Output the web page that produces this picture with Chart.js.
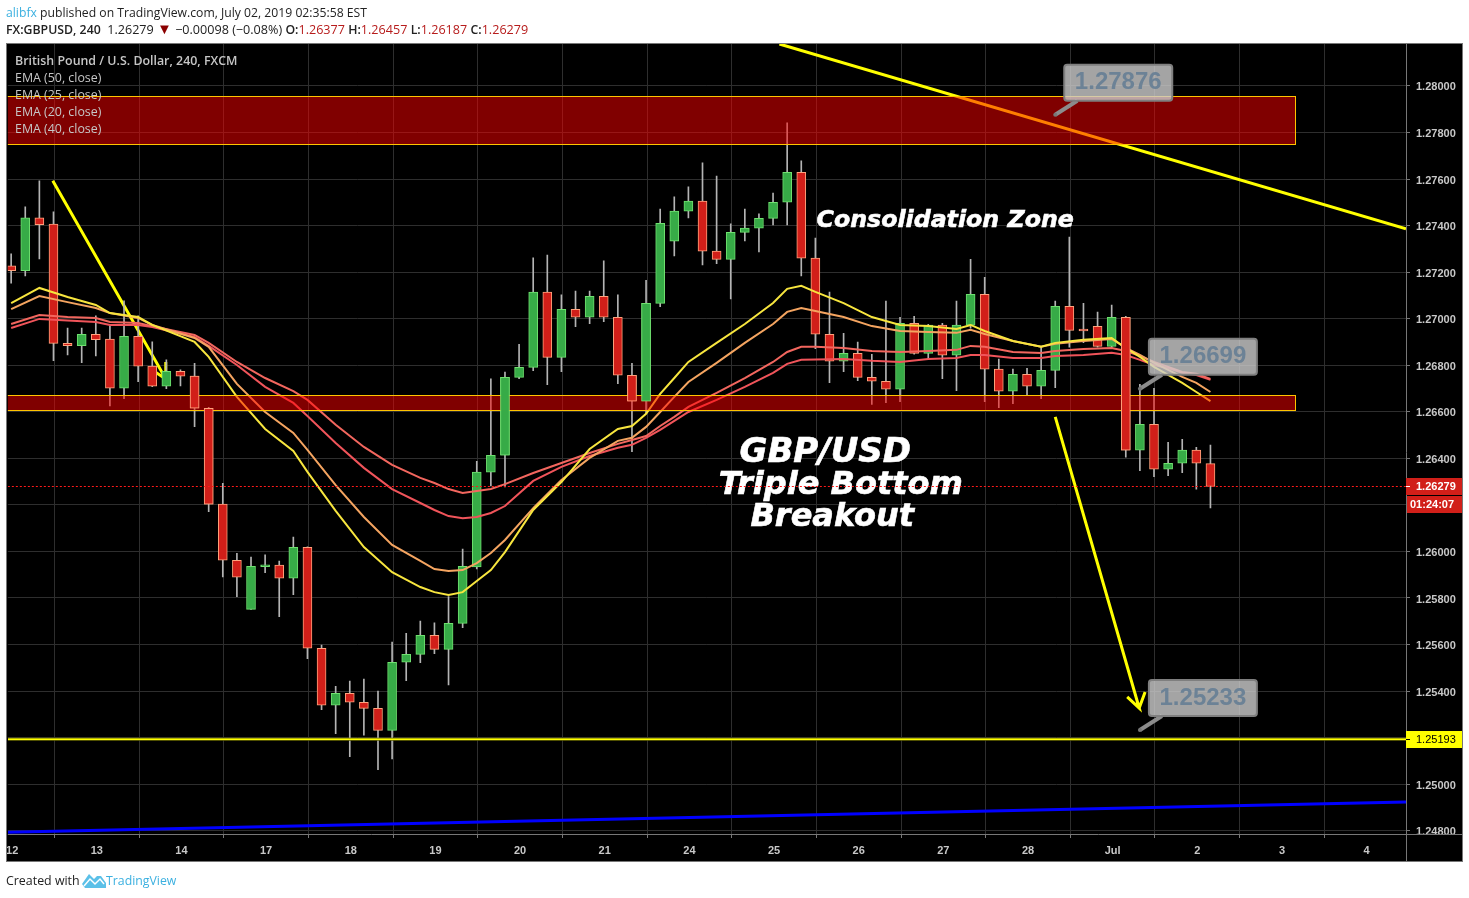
<!DOCTYPE html>
<html>
<head>
<meta charset="utf-8">
<title>GBPUSD 240</title>
<script src="https://cdn.jsdelivr.net/npm/chart.js@4/dist/chart.umd.min.js"></script>
<style>
  body { margin: 0; background: #fff; width: 1469px; height: 898px; overflow: hidden; position: relative; font-family: "Open Sans", sans-serif; }
  canvas { position: absolute; left: 0; top: 0; }
  .txt { position: absolute; white-space: nowrap; }
  #top1 { left: 6px; top: 4px; font-size: 12.2px; line-height: 18px; color: #222; }
  #top2 { left: 6px; top: 21px; font-size: 12.6px; line-height: 18px; color: #222; }
  #top1 span { color: #3bb0e0; }
  #top2 b { font-weight: 600; font-size: 12.3px; }
  #top2 i { font-style: normal; color: #b71c1c; }
  #top2 u { text-decoration: none; color: #8b0000; font-size: 15px; line-height: 12px; }
  .leg { left: 15px; font-size: 12.4px; line-height: 17px; color: #c6c6c6; }
  #foot { left: 6px; top: 872px; font-size: 12.4px; line-height: 18px; color: #222; }
  #tvname { left: 106px; top: 872px; font-size: 12.3px; line-height: 18px; color: #3bb0e0; }
  #logo { position: absolute; left: 82px; top: 873px; }
</style>
</head>
<body>
<canvas id="myChart" width="1469" height="898"></canvas>
<div class="txt" id="top1"><span>alibfx</span> published on TradingView.com, July 02, 2019 02:35:58 EST</div>
<div class="txt" id="top2"><b>FX:GBPUSD, 240</b>&nbsp; 1.26279 <u>▼</u> −0.00098 (−0.08%) <b>O:</b><i>1.26377</i> <b>H:</b><i>1.26457</i> <b>L:</b><i>1.26187</i> <b>C:</b><i>1.26279</i></div>
<div class="txt leg" style="top:52px;font-weight:600">British Pound / U.S. Dollar, 240, FXCM</div>
<div class="txt leg" style="top:69px">EMA (50, close)</div>
<div class="txt leg" style="top:86px">EMA (25, close)</div>
<div class="txt leg" style="top:103px">EMA (20, close)</div>
<div class="txt leg" style="top:120px">EMA (40, close)</div>
<div class="txt" id="foot">Created with</div>
<svg id="logo" width="24" height="15" viewBox="0 0 24 15"><path d="M0 11 L7 1 L12 6 L15 3 L19 3 L24 10 L24 15 L3 15 Z" fill="#5bc0e8"/><path d="M2 13 L8 6 L13 11 L18 6 L22 11" fill="none" stroke="#fff" stroke-width="1.5"/></svg>
<div class="txt" id="tvname">TradingView</div>
<script>
const opens = [1.27227,1.27206,1.27433,1.27406,1.26894,1.26884,1.26933,1.26912,1.26701,1.26924,1.26796,1.26710,1.26774,1.26753,1.26615,1.26203,1.25962,1.25751,1.25934,1.25941,1.25885,1.26018,1.25584,1.25339,1.25390,1.25352,1.25326,1.25231,1.25524,1.25558,1.25640,1.25579,1.25691,1.25933,1.26341,1.26413,1.26748,1.26791,1.27114,1.26834,1.27040,1.27006,1.27096,1.27006,1.26757,1.26645,1.27066,1.27333,1.27462,1.27505,1.27290,1.27255,1.27371,1.27389,1.27431,1.27500,1.27629,1.27260,1.26933,1.26817,1.26851,1.26748,1.26731,1.26697,1.26980,1.26851,1.26972,1.26843,1.26972,1.27105,1.26783,1.26688,1.26761,1.26710,1.26778,1.27053,1.26950,1.26967,1.26881,1.27006,1.26435,1.26546,1.26353,1.26379,1.26435,1.26377];
const highs = [1.27278,1.27480,1.27592,1.27459,1.26959,1.26959,1.27012,1.26969,1.27077,1.27012,1.26900,1.26823,1.26780,1.26808,1.26619,1.26293,1.25992,1.25976,1.25985,1.25959,1.26062,1.26020,1.25598,1.25420,1.25443,1.25452,1.25400,1.25610,1.25648,1.25701,1.25693,1.25806,1.26010,1.26387,1.26741,1.26771,1.26890,1.27261,1.27273,1.27102,1.27119,1.27119,1.27248,1.27102,1.26808,1.27165,1.27471,1.27523,1.27566,1.27669,1.27613,1.27407,1.27471,1.27450,1.27540,1.27841,1.27678,1.27346,1.27114,1.26937,1.26899,1.26847,1.27075,1.27006,1.27010,1.26976,1.26980,1.27075,1.27255,1.27178,1.26826,1.26783,1.26787,1.26877,1.27075,1.27350,1.27066,1.27028,1.27058,1.27010,1.26718,1.26701,1.26469,1.26482,1.26447,1.26457];
const lows = [1.27153,1.27184,1.27257,1.26820,1.26844,1.26811,1.26840,1.26625,1.26656,1.26729,1.26708,1.26699,1.26711,1.26536,1.26171,1.25891,1.25806,1.25751,1.25909,1.25720,1.25814,1.25539,1.25320,1.25217,1.25118,1.25211,1.25062,1.25109,1.25445,1.25522,1.25561,1.25427,1.25672,1.25925,1.26281,1.26277,1.26742,1.26777,1.26716,1.26772,1.26966,1.26979,1.26987,1.26721,1.26429,1.26594,1.27052,1.27270,1.27433,1.27231,1.27236,1.27085,1.27334,1.27287,1.27403,1.27403,1.27184,1.26871,1.26725,1.26772,1.26734,1.26632,1.26639,1.26643,1.26847,1.26826,1.26742,1.26691,1.26959,1.26643,1.26618,1.26635,1.26672,1.26656,1.26704,1.26877,1.26897,1.26877,1.26873,1.26405,1.26347,1.26321,1.26325,1.26338,1.26267,1.26187];
const closes = [1.27206,1.27433,1.27404,1.26894,1.26884,1.26933,1.26910,1.26701,1.26924,1.26796,1.26710,1.26774,1.26753,1.26615,1.26203,1.25962,1.25889,1.25936,1.25942,1.25885,1.26018,1.25584,1.25339,1.25390,1.25352,1.25326,1.25231,1.25524,1.25558,1.25640,1.25579,1.25691,1.25936,1.26341,1.26413,1.26748,1.26791,1.27114,1.26834,1.27040,1.27006,1.27096,1.27006,1.26757,1.26645,1.27066,1.27410,1.27462,1.27505,1.27290,1.27255,1.27371,1.27389,1.27431,1.27500,1.27629,1.27260,1.26933,1.26817,1.26851,1.26748,1.26731,1.26697,1.26980,1.26851,1.26972,1.26843,1.26972,1.27105,1.26783,1.26688,1.26761,1.26710,1.26778,1.27053,1.26950,1.26947,1.26881,1.27006,1.26435,1.26546,1.26353,1.26379,1.26435,1.26379,1.26279];

const emaIndex = [0,2,4,6,7,9,10,13,14,16,18,20,21,23,25,27,29,30,31,32,33,34,35,37,39,41,43,44,45,46,47,48,50,52,54,55,56,57,59,61,63,65,67,68,69,71,73,74,76,78,79,80,81,82,83,84,85];
const ema20 = [1.27067,1.27132,1.27093,1.27059,1.27024,1.27007,1.26973,1.26900,1.26836,1.26664,1.26526,1.26432,1.26342,1.26174,1.26019,1.25911,1.25847,1.25825,1.25813,1.25825,1.25873,1.25920,1.25997,1.26178,1.26298,1.26440,1.26526,1.26539,1.26591,1.26677,1.26745,1.26814,1.26896,1.26977,1.27067,1.27128,1.27141,1.27115,1.27067,1.27007,1.26973,1.26968,1.26956,1.26973,1.26947,1.26904,1.26879,1.26896,1.26909,1.26917,1.26874,1.26836,1.26793,1.26758,1.26724,1.26685,1.26646];
const ema25 = [1.27041,1.27097,1.27071,1.27046,1.27024,1.27003,1.26973,1.26917,1.26879,1.26720,1.26599,1.26509,1.26436,1.26285,1.26148,1.26028,1.25959,1.25924,1.25916,1.25920,1.25950,1.25993,1.26049,1.26186,1.26307,1.26402,1.26475,1.26488,1.26535,1.26599,1.26664,1.26728,1.26810,1.26896,1.26977,1.27029,1.27046,1.27033,1.27007,1.26968,1.26947,1.26943,1.26939,1.26952,1.26934,1.26904,1.26879,1.26892,1.26904,1.26913,1.26874,1.26844,1.26810,1.26780,1.26750,1.26724,1.26685];
const ema40 = [1.26977,1.27016,1.27007,1.27003,1.26986,1.26981,1.26968,1.26930,1.26896,1.26814,1.26745,1.26689,1.26651,1.26544,1.26449,1.26372,1.26316,1.26294,1.26268,1.26251,1.26260,1.26268,1.26289,1.26337,1.26380,1.26423,1.26462,1.26479,1.26496,1.26539,1.26578,1.26621,1.26681,1.26745,1.26814,1.26857,1.26879,1.26879,1.26874,1.26861,1.26857,1.26861,1.26866,1.26883,1.26879,1.26857,1.26853,1.26861,1.26870,1.26874,1.26861,1.26840,1.26814,1.26793,1.26771,1.26763,1.26741];
const ema50 = [1.26960,1.26999,1.26992,1.26986,1.26973,1.26973,1.26964,1.26921,1.26883,1.26801,1.26707,1.26638,1.26582,1.26466,1.26359,1.26268,1.26208,1.26178,1.26152,1.26143,1.26148,1.26165,1.26195,1.26303,1.26363,1.26410,1.26445,1.26458,1.26488,1.26522,1.26561,1.26599,1.26651,1.26707,1.26767,1.26806,1.26823,1.26825,1.26827,1.26819,1.26814,1.26827,1.26831,1.26844,1.26844,1.26831,1.26831,1.26840,1.26844,1.26853,1.26844,1.26823,1.26801,1.26788,1.26767,1.26758,1.26737];

const priceTicks = [1.248,1.25,1.252,1.254,1.256,1.258,1.26,1.262,1.264,1.266,1.268,1.27,1.272,1.274,1.276,1.278,1.28];
const dayLabels = ['12','13','14','17','18','19','20','21','24','25','26','27','28','Jul','2','3','4'];
const candlesPerDay = 6;

const lastPrice = 1.26279;
const countdown = '01:24:07';
const supportPrice = 1.25193;

const zoneLow = [1.27750, 1.26607];
const zoneHigh = [1.27955, 1.26671];
const zoneEnd = 91;

const fallIdx = [54.45, 98.86];
const fallPrice = [1.2818, 1.27386];
const riseIdx = [-0.23, 98.86];
const risePrice = [1.24794, 1.24923];
const arrow1Idx = [2.95, 10.96, 10.96, 10.96, 10.1];
const arrow1Price = [1.27592, 1.26741, 1.26814, 1.26741, 1.26775];
const arrow2Idx = [74, 79.95, 79.1, 79.95, 80.37];
const arrow2Price = [1.26578, 1.25327, 1.25375, 1.25327, 1.25396];

const calloutIdx = [74, 80, 80];
const calloutPrice = [1.27876, 1.26699, 1.25233];

const noteText = ['Consolidation Zone', 'GBP/USD', 'Triple Bottom', 'Breakout'];
const noteIdx = [66.2, 57.7, 58.8, 58.2];
const notePrice = [1.27421, 1.26424, 1.26282, 1.26145];
const noteSize = [23.7, 34, 32, 32];

const UP = '#37ab47', UP_EDGE = '#6fe06f', DOWN = '#d11f19', DOWN_EDGE = '#ffa37d';
const isUp = opens.map((o, i) => closes[i] >= o);

function lineData(xs, ys) {
  return xs.map((x, i) => ({ x: x, y: ys[i] }));
}

function lineSet(xs, ys, color, width, order) {
  return {
    type: 'line',
    data: lineData(xs, ys),
    borderColor: color,
    borderWidth: width,
    pointRadius: 0,
    tension: 0,
    order: order
  };
}

const overlays = {
  id: 'overlays',
  beforeDraw(chart) {
    const ctx = chart.ctx;
    ctx.save();
    ctx.fillStyle = '#000';
    ctx.fillRect(6, 43, 1457, 819);
    ctx.restore();
  },
  afterDatasetsDraw(chart) {
    const ctx = chart.ctx;
    const xs = chart.scales.x;
    const ys = chart.scales.y;
    const area = chart.chartArea;

    ctx.save();
    ctx.beginPath();
    ctx.rect(area.left, area.top, area.right - area.left, area.bottom - area.top);
    ctx.clip();

    // zones sit over the lines but the candle bodies stay on top
    const right = Math.round(xs.getPixelForValue(zoneEnd)) + 0.5;
    zoneLow.forEach((low, i) => {
      const top = Math.round(ys.getPixelForValue(zoneHigh[i])) + 0.5;
      const bottom = Math.round(ys.getPixelForValue(low)) + 0.5;
      ctx.fillStyle = 'rgba(255,0,0,0.5)';
      ctx.fillRect(area.left - 2, top, right - area.left + 2, bottom - top);
      ctx.strokeStyle = '#ffc400';
      ctx.lineWidth = 1;
      ctx.strokeRect(area.left - 2, top, right - area.left + 2, bottom - top);
    });
    const bodies = chart.getDatasetMeta(1).data;
    bodies.forEach((el, i) => {
      const hi = Math.max(opens[i], closes[i]);
      const lo = Math.min(opens[i], closes[i]);
      if (zoneLow.some((z, k) => hi > z && lo < zoneHigh[k])) el.draw(ctx);
    });

    ctx.fillStyle = '#fff';
    ctx.strokeStyle = '#fff';
    ctx.lineWidth = 0.6;
    ctx.textAlign = 'center';
    ctx.textBaseline = 'middle';
    noteText.forEach((t, i) => {
      ctx.font = 'italic bold ' + noteSize[i] + 'px "DejaVu Sans"';
      ctx.fillText(t, xs.getPixelForValue(noteIdx[i]), ys.getPixelForValue(notePrice[i]));
      ctx.strokeText(t, xs.getPixelForValue(noteIdx[i]), ys.getPixelForValue(notePrice[i]));
    });

    const py = Math.round(ys.getPixelForValue(lastPrice)) + 0.5;
    ctx.strokeStyle = '#ff1a1a';
    ctx.lineWidth = 1;
    ctx.setLineDash([2, 2]);
    ctx.beginPath();
    ctx.moveTo(area.left, py);
    ctx.lineTo(area.right, py);
    ctx.stroke();
    ctx.setLineDash([]);

    calloutPrice.forEach((p, i) => {
      const tipX = xs.getPixelForValue(calloutIdx[i]);
      const tipY = ys.getPixelForValue(p);
      const bx = tipX + 9, by = tipY - 50, bw = 108, bh = 36;
      ctx.strokeStyle = '#8c8c8c';
      ctx.lineWidth = 4;
      ctx.beginPath();
      ctx.moveTo(tipX, tipY);
      ctx.lineTo(bx + 13, by + bh);
      ctx.stroke();
      ctx.fillStyle = '#777';
      ctx.beginPath();
      ctx.arc(tipX, tipY, 2, 0, Math.PI * 2);
      ctx.fill();
      ctx.beginPath();
      ctx.roundRect(bx, by, bw, bh, 3);
      ctx.fillStyle = 'rgba(205,205,205,0.8)';
      ctx.fill();
      ctx.strokeStyle = '#7f7f7f';
      ctx.lineWidth = 2;
      ctx.stroke();
      ctx.fillStyle = '#6c8296';
      ctx.font = 'bold 24px "Liberation Sans"';
      ctx.fillText(p.toFixed(5), bx + bw / 2, by + bh / 2);
    });
    ctx.restore();
  },
  afterDraw(chart) {
    const ctx = chart.ctx;
    const ys = chart.scales.y;
    const area = chart.chartArea;
    ctx.save();

    // the lowest tick label is cut by the time axis
    ctx.fillStyle = '#000';
    ctx.fillRect(area.right + 1, area.bottom, 56, 27);

    ctx.strokeStyle = '#777';
    ctx.lineWidth = 1;
    ctx.beginPath();
    ctx.moveTo(area.left, area.bottom + 0.5);
    ctx.lineTo(1462, area.bottom + 0.5);
    ctx.moveTo(area.right + 0.5, 44);
    ctx.lineTo(area.right + 0.5, 861);
    ctx.stroke();
    ctx.strokeRect(6.5, 43.5, 1456, 818);

    ctx.textBaseline = 'middle';
    ctx.textAlign = 'left';
    ctx.font = 'bold 11px "Liberation Sans"';
    const py = Math.round(ys.getPixelForValue(lastPrice));
    ctx.fillStyle = '#d11f19';
    ctx.fillRect(area.right, py - 8, 56, 17);
    ctx.fillRect(area.right + 1, py + 10, 55, 17);
    ctx.fillStyle = '#fff';
    ctx.fillRect(area.right, py, 4, 1);
    ctx.fillText(lastPrice.toFixed(5), area.right + 10, py + 1);
    ctx.fillText(countdown, area.right + 4, py + 19);

    const sy = Math.round(ys.getPixelForValue(supportPrice));
    ctx.fillStyle = '#ffff00';
    ctx.fillRect(area.right, sy - 8, 56, 17);
    ctx.fillStyle = '#000';
    ctx.fillRect(area.right, sy, 4, 1);
    ctx.font = '11px "Liberation Sans"';
    ctx.fillText(supportPrice.toFixed(5), area.right + 10, sy + 1);
    ctx.restore();
  }
};

const candleIdx = opens.map((o, i) => i);
const dayTicks = dayLabels.map((d, i) => i * candlesPerDay + 0.07);

const config = {
  type: 'bar',
  data: {
    datasets: [
      {
        data: candleIdx.map(i => ({ x: i, y: [lows[i], highs[i]] })),
        backgroundColor: '#b4b4b4',
        borderWidth: 0,
        barThickness: 1,
        grouped: false,
        order: 60
      },
      {
        data: candleIdx.map(i => ({ x: i, y: [opens[i], closes[i]] })),
        backgroundColor: isUp.map(u => u ? UP : DOWN),
        borderColor: isUp.map(u => u ? UP_EDGE : DOWN_EDGE),
        borderWidth: 1,
        borderSkipped: false,
        barThickness: 9,
        minBarLength: 2,
        grouped: false,
        order: 50
      },
      lineSet(arrow1Idx, arrow1Price, '#ffff00', 3, 70),
      lineSet(arrow2Idx, arrow2Price, '#ffff00', 3, 70),
      lineSet(emaIndex, ema50, '#f0545a', 2, 40),
      lineSet(emaIndex, ema40, '#f2665e', 2, 39),
      lineSet(emaIndex, ema25, '#f4a460', 2, 38),
      lineSet(emaIndex, ema20, '#f7e53e', 2, 37),
      lineSet(fallIdx, fallPrice, '#ffff00', 3, 30),
      lineSet(riseIdx, risePrice, '#0000ff', 3, 30),
      lineSet(riseIdx, [supportPrice, supportPrice], '#6b6b00', 3, 30),
      lineSet(riseIdx, [supportPrice, supportPrice], '#ffff00', 1.5, 29)
    ]
  },
  options: {
    responsive: false,
    animation: false,
    devicePixelRatio: 1,
    layout: { padding: { left: 7, top: 44, right: 7, bottom: 37 } },
    plugins: { legend: { display: false }, tooltip: { enabled: false } },
    scales: {
      x: {
        type: 'linear',
        offset: false,
        min: -0.234,
        max: 98.86,
        afterBuildTicks: s => { s.ticks = dayTicks.map(v => ({ value: v })); },
        afterFit: s => { s.height = 27; },
        grid: { color: '#2e2e2e', tickColor: '#777', tickLength: 4 },
        border: { display: false },
        ticks: {
          autoSkip: false,
          maxRotation: 0,
          padding: 6,
          color: '#c8c8c8',
          font: { family: 'Liberation Sans', size: 11, weight: 'bold' },
          callback: (v, i) => dayLabels[i]
        }
      },
      y: {
        position: 'right',
        min: 1.24786,
        max: 1.2818,
        afterBuildTicks: s => { s.ticks = priceTicks.map(v => ({ value: v })); },
        afterFit: s => { s.width = 56; },
        grid: { color: '#2e2e2e', tickColor: '#777', tickLength: 4 },
        border: { display: false },
        ticks: {
          autoSkip: false,
          padding: 6,
          color: '#c8c8c8',
          // small line height with an empty first line nudges labels just under the grid line
          font: { family: 'Liberation Sans', size: 11, weight: 'bold', lineHeight: '3px' },
          callback: v => ['', v.toFixed(5)]
        }
      }
    }
  },
  plugins: [overlays]
};

new Chart(document.getElementById('myChart'), config);
</script>
</body>
</html>
